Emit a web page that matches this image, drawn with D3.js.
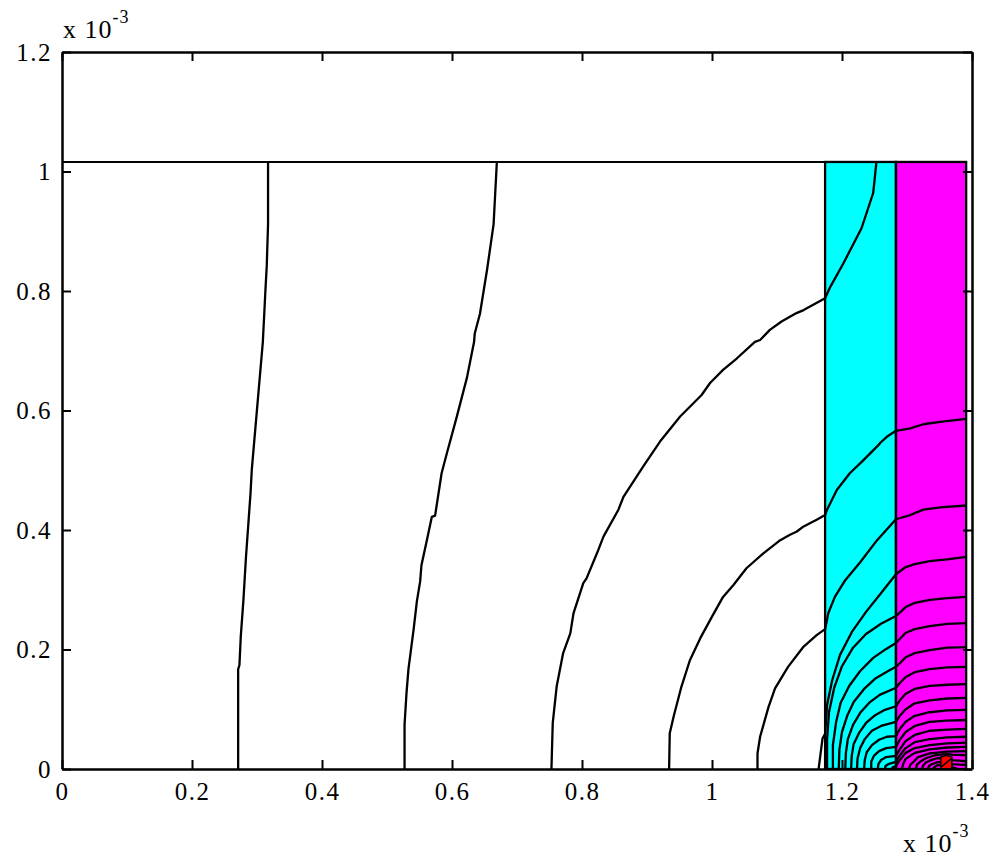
<!DOCTYPE html>
<html>
<head>
<meta charset="utf-8">
<script src="https://cdn.jsdelivr.net/npm/d3@7"></script>
<style>
body { margin: 0; background: #fff; }
svg text { font-family: "Liberation Serif", "DejaVu Serif", serif; fill: #000; }
</style>
</head>
<body>
<svg></svg>
<script>
// axis values, in units of 1e-3
let xTicks = [0, 0.2, 0.4, 0.6, 0.8, 1, 1.2, 1.4];
let yTicks = [0, 0.2, 0.4, 0.6, 0.8, 1, 1.2];

// subdomains: white | cyan | magenta, and the top of the geometry
let regionEdges = [0, 1.174, 1.283, 1.391];
let domainTop = 1.016;

// small red source patch at the bottom right
let sourcePatch = [[1.352,0],[1.352,0.020],[1.360,0.023],[1.369,0.020],[1.369,0]];
let sourceSplit = [[1.352,0.003],[1.369,0.018]];

// contour lines (x, y)
let cA = [[0.271,0],[0.271,0.167],[0.273,0.174],[0.275,0.221],[0.279,0.281],[0.283,0.354],[0.290,0.461],[0.292,0.501],[0.300,0.602],[0.309,0.715],[0.313,0.802],[0.315,0.842],[0.317,0.912],[0.317,1.016]];
let cB = [[0.527,0],[0.527,0.074],[0.530,0.127],[0.533,0.167],[0.541,0.234],[0.546,0.281],[0.551,0.314],[0.553,0.341],[0.561,0.381],[0.569,0.422],[0.574,0.424],[0.584,0.495],[0.592,0.528],[0.607,0.588],[0.623,0.655],[0.634,0.715],[0.635,0.729],[0.643,0.762],[0.654,0.836],[0.664,0.912],[0.669,1.016]];
let cC = [[0.753,0],[0.755,0.077],[0.761,0.138],[0.771,0.194],[0.782,0.227],[0.787,0.261],[0.802,0.311],[0.807,0.319],[0.823,0.361],[0.833,0.389],[0.856,0.434],[0.864,0.456],[0.894,0.506],[0.920,0.548],[0.951,0.590],[0.984,0.626],[0.997,0.646],[1.017,0.668],[1.038,0.687],[1.066,0.715],[1.074,0.718],[1.089,0.735],[1.107,0.749],[1.130,0.763],[1.141,0.768],[1.174,0.788],[1.182,0.807],[1.202,0.846],[1.230,0.905],[1.248,0.964],[1.253,1.016]];
let cD = [[0.934,0],[0.935,0.060],[0.941,0.088],[0.953,0.138],[0.966,0.182],[0.982,0.219],[1.000,0.255],[1.017,0.288],[1.033,0.308],[1.053,0.336],[1.079,0.361],[1.105,0.383],[1.120,0.392],[1.130,0.397],[1.141,0.406],[1.161,0.417],[1.174,0.425],[1.177,0.434],[1.192,0.467],[1.212,0.495],[1.233,0.517],[1.256,0.542],[1.259,0.546],[1.269,0.556],[1.283,0.566],[1.305,0.570],[1.325,0.577],[1.351,0.581],[1.391,0.586]];
let cE = [[1.070,0],[1.070,0.026],[1.074,0.054],[1.087,0.104],[1.097,0.135],[1.117,0.171],[1.141,0.205],[1.161,0.224],[1.174,0.234],[1.179,0.261],[1.189,0.288],[1.205,0.316],[1.228,0.346],[1.254,0.383],[1.283,0.418],[1.305,0.425],[1.325,0.434],[1.351,0.438],[1.391,0.441]];
let cF = [[1.164,0],[1.170,0.051],[1.174,0.059],[1.177,0.107],[1.185,0.149],[1.197,0.191],[1.215,0.229],[1.237,0.263],[1.259,0.293],[1.283,0.326],[1.298,0.338],[1.312,0.343],[1.335,0.348],[1.362,0.351],[1.391,0.355]];
let cG = [[1.177,0],[1.177,0.049],[1.180,0.095],[1.188,0.136],[1.200,0.172],[1.217,0.203],[1.237,0.226],[1.260,0.243],[1.283,0.256],[1.298,0.271],[1.312,0.278],[1.335,0.283],[1.362,0.286],[1.391,0.288]];
let cH = [[1.186,0],[1.186,0.040],[1.191,0.079],[1.198,0.111],[1.211,0.139],[1.228,0.164],[1.248,0.186],[1.268,0.201],[1.283,0.211],[1.298,0.228],[1.312,0.234],[1.335,0.239],[1.362,0.243],[1.391,0.244]];
let cI = [[1.195,0],[1.196,0.032],[1.200,0.062],[1.208,0.089],[1.218,0.112],[1.234,0.134],[1.252,0.152],[1.271,0.164],[1.283,0.171],[1.289,0.177],[1.298,0.187],[1.312,0.194],[1.335,0.199],[1.362,0.203],[1.391,0.204]];
let cJ = [[1.205,0],[1.206,0.027],[1.209,0.050],[1.217,0.074],[1.228,0.094],[1.242,0.111],[1.258,0.124],[1.283,0.136],[1.289,0.144],[1.298,0.154],[1.312,0.162],[1.335,0.167],[1.362,0.170],[1.391,0.171]];
let cK = [[1.214,0],[1.215,0.022],[1.218,0.042],[1.226,0.060],[1.237,0.077],[1.251,0.090],[1.266,0.099],[1.283,0.105],[1.289,0.115],[1.298,0.126],[1.312,0.134],[1.335,0.139],[1.362,0.141],[1.391,0.142]];
let cL = [[1.223,0],[1.224,0.018],[1.228,0.035],[1.235,0.050],[1.246,0.064],[1.260,0.072],[1.283,0.079],[1.289,0.089],[1.298,0.100],[1.312,0.110],[1.335,0.115],[1.362,0.118],[1.391,0.119]];
let cM = [[1.234,0],[1.235,0.015],[1.238,0.028],[1.246,0.040],[1.257,0.049],[1.269,0.054],[1.283,0.055],[1.289,0.067],[1.298,0.079],[1.312,0.089],[1.335,0.095],[1.362,0.098],[1.391,0.099]];
let cN = [[1.245,0],[1.245,0.012],[1.249,0.022],[1.257,0.030],[1.268,0.035],[1.283,0.037],[1.289,0.049],[1.298,0.062],[1.312,0.072],[1.335,0.079],[1.362,0.081],[1.391,0.082]];
let cO = [[1.255,0],[1.256,0.008],[1.260,0.015],[1.268,0.020],[1.283,0.022],[1.289,0.033],[1.298,0.047],[1.312,0.057],[1.335,0.064],[1.362,0.066],[1.391,0.067]];
let cP = [[1.266,0],[1.267,0.005],[1.271,0.008],[1.283,0.012],[1.289,0.023],[1.298,0.035],[1.312,0.045],[1.335,0.050],[1.362,0.053],[1.391,0.054]];
let cQ = [[1.277,0],[1.278,0.003],[1.283,0.005],[1.289,0.015],[1.298,0.027],[1.312,0.035],[1.335,0.040],[1.362,0.043],[1.391,0.044]];
let cR = [[1.292,0],[1.294,0.008],[1.298,0.017],[1.312,0.027],[1.335,0.033],[1.362,0.036],[1.391,0.037]];
let cS = [[1.303,0],[1.305,0.007],[1.311,0.013],[1.317,0.020],[1.335,0.026],[1.362,0.029],[1.391,0.030]];
let cT = [[1.314,0],[1.315,0.007],[1.320,0.012],[1.329,0.018],[1.343,0.023],[1.352,0.024],[1.362,0.025],[1.369,0.024],[1.391,0.023]];
let cU = [[1.323,0],[1.325,0.006],[1.329,0.011],[1.337,0.015],[1.346,0.018],[1.352,0.018],[1.369,0.015],[1.380,0.014],[1.391,0.013]];
let cV = [[1.332,0],[1.334,0.005],[1.338,0.008],[1.346,0.011],[1.352,0.012],[1.369,0.008],[1.391,0.007]];
let cW = [[1.340,0],[1.342,0.003],[1.346,0.006],[1.352,0.007],[1.369,0.003],[1.378,0]];

let contours = [cA, cB, cC, cD, cE, cF, cG, cH, cI, cJ, cK, cL, cM, cN, cO, cP, cQ, cR, cS, cT, cU, cV, cW];

let svgWidth = 989;
let svgHeight = 858;
let serif = '"Liberation Serif", "DejaVu Serif", serif';

let svg = d3.select('svg')
	.attr("width", svgWidth)
	.attr("height", svgHeight);

svg.append("rect").attr("width", svgWidth).attr("height", svgHeight).attr("fill", "#fff");

let xScale = d3.scaleLinear().domain([0, 1.4]).range([62, 972]);
let yScale = d3.scaleLinear().domain([0, 1.2]).range([769, 52]);

//subdomain fills
let fills = ["#ffffff", "#00ffff", "#ff00ff"];
svg.selectAll("rect.region")
	.data(d3.range(3))
	.enter()
	.append("rect")
	.attr("class", "region")
	.attr("x", i => xScale(regionEdges[i]))
	.attr("y", yScale(domainTop))
	.attr("width", i => xScale(regionEdges[i + 1]) - xScale(regionEdges[i]))
	.attr("height", yScale(0) - yScale(domainTop))
	.attr("fill", i => fills[i]);

//contours
let line = d3.line()
	.x(d => xScale(d[0]))
	.y(d => yScale(d[1]));

svg.selectAll("path.contour")
	.data(contours)
	.enter()
	.append("path")
	.attr("class", "contour")
	.attr("d", line)
	.attr("fill", "none")
	.attr("stroke", "#000")
	.attr("stroke-width", 2.3)
	.attr("stroke-linejoin", "round");

//subdomain borders
svg.selectAll("rect.border")
	.data([1, 2])
	.enter()
	.append("rect")
	.attr("class", "border")
	.attr("x", i => xScale(regionEdges[i]))
	.attr("y", yScale(domainTop))
	.attr("width", i => xScale(regionEdges[i + 1]) - xScale(regionEdges[i]))
	.attr("height", yScale(0) - yScale(domainTop))
	.attr("fill", "none")
	.attr("stroke", "#000")
	.attr("stroke-width", 2.3);

svg.append("line")
	.attr("x1", xScale(0)).attr("x2", xScale(regionEdges[3]))
	.attr("y1", yScale(domainTop)).attr("y2", yScale(domainTop))
	.attr("stroke", "#000")
	.attr("stroke-width", 2);

//source
svg.append("path")
	.attr("d", line(sourcePatch) + "Z")
	.attr("fill", "#ff0000")
	.attr("stroke", "#000")
	.attr("stroke-width", 1.5);
svg.append("path")
	.attr("d", line(sourceSplit))
	.attr("stroke", "#000")
	.attr("stroke-width", 1.5);

//axes
function styleAxis(g) {
	g.attr("font-family", serif).attr("font-size", 25);
	g.select(".domain").attr("stroke-width", 2.5);
	g.selectAll(".tick line").attr("stroke-width", 2);
	g.selectAll("text")
		.attr("font-family", serif)
		.style("font-family", serif)
		.style("font-size", "25px")
		.style("letter-spacing", "1.5px");
}

svg.append("g")
	.attr("transform", "translate(0," + yScale(0) + ")")
	.call(d3.axisBottom(xScale).tickValues(xTicks).tickFormat(d => String(d)).tickSize(-9).tickSizeOuter(0).tickPadding(13))
	.call(styleAxis);

svg.append("g")
	.attr("transform", "translate(" + xScale(0) + ",0)")
	.call(d3.axisLeft(yScale).tickValues(yTicks).tickFormat(d => String(d)).tickSize(-9).tickSizeOuter(0).tickPadding(10))
	.call(styleAxis);

svg.append("g")
	.attr("transform", "translate(0," + yScale(1.2) + ")")
	.call(d3.axisTop(xScale).tickValues(xTicks).tickFormat("").tickSize(-9).tickSizeOuter(0))
	.call(styleAxis);

svg.append("g")
	.attr("transform", "translate(" + xScale(1.4) + ",0)")
	.call(d3.axisRight(yScale).tickValues(yTicks).tickFormat("").tickSize(-9).tickSizeOuter(0))
	.call(styleAxis);

//exponent labels
function expLabel(xp, yp) {
	let t = svg.append("text")
		.attr("x", xp)
		.attr("y", yp)
		.style("font-family", serif)
		.style("font-size", "26px")
		.style("letter-spacing", "1px");
	t.append("tspan").text("x 10");
	t.append("tspan").attr("dy", -15).style("font-size", "18px").text("-3");
}
expLabel(63, 38);
expLabel(903, 852);
</script>
</body>
</html>
